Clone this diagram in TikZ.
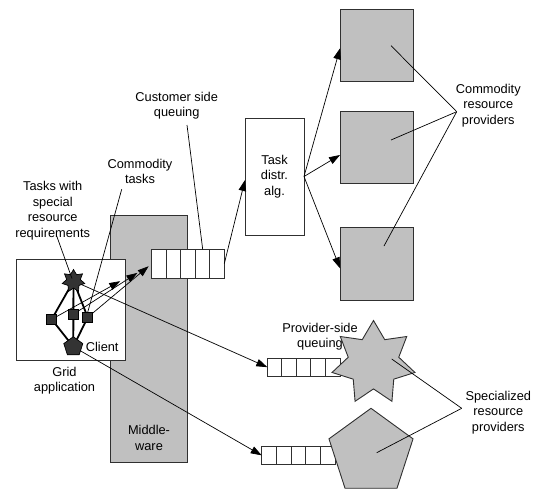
\documentclass[tikz,border=0pt]{standalone}
\usepackage{fontspec}
\setmainfont{Liberation Sans}
\usetikzlibrary{shapes.geometric,arrows.meta,calc}
\definecolor{boxgray}{HTML}{C0C0C0}
\definecolor{darkshape}{HTML}{333333}
\definecolor{edgegray}{HTML}{303030}
\tikzset{
  lbl/.style={align=center,inner sep=0pt,font=\fontsize{12.8}{15.6}\selectfont},
  graybox/.style={draw=edgegray,fill=boxgray,line width=0.9pt,inner sep=0pt,outer sep=0pt},
  whitebox/.style={draw=edgegray,fill=white,line width=0.9pt,inner sep=0pt,outer sep=0pt},
  queue/.style={whitebox},
  thinline/.style={draw=black,line width=0.7pt},
  arr/.style={thinline,-{Triangle[length=11pt,width=7.5pt]}},
  thick/.style={draw=black,line width=1.8pt},
  darkfill/.style={draw=black,fill=darkshape,line width=0.7pt,inner sep=0pt,outer sep=0pt},
}
\begin{document}
\begin{tikzpicture}[x=1pt,y=-1pt]
\useasboundingbox (0,0) rectangle (541,488);
% middleware
\node[graybox,minimum width=76.3,minimum height=246.3] (mw) at (148.85,338.85) {};
\node[lbl] (lmid) at (149,437.8) {Middle-\\ware};
% grid application box
\node[whitebox,minimum width=109.2,minimum height=101.7] (ga) at (71.1,309.85) {};
\node[lbl] (lgrid) at (64.5,380.8) {Grid\\application};
% customer queue
\node[queue,minimum width=72.6,minimum height=28.7] (cq) at (188,263.65) {};
\foreach \i in {1,...,4}
  \draw[edgegray,line width=0.9pt] ($(cq.south west)!\i/5!(cq.south east)$) -- ($(cq.north west)!\i/5!(cq.north east)$);
% task distribution
\node[whitebox,lbl,minimum width=59,minimum height=117] (tb) at (274.5,176.5) {Task\\distr.\\alg.};
% commodity providers
\node[graybox,minimum width=73.3,minimum height=72.4] (sq1) at (376.7,45.5) {};
\node[graybox,minimum width=73.3,minimum height=72.4] (sq2) at (376.7,147.2) {};
\node[graybox,minimum width=73.3,minimum height=72.4] (sq3) at (376.7,263.85) {};
% provider-side queues
\node[queue,minimum width=72.7,minimum height=17.7] (pq) at (303.65,367.15) {};
\foreach \i in {1,...,4}
  \draw[edgegray,line width=0.9pt] ($(pq.south west)!\i/5!(pq.south east)$) -- ($(pq.north west)!\i/5!(pq.north east)$);
\node[queue,minimum width=73.3,minimum height=17.3] (lq) at (298.35,455.35) {};
\foreach \i in {1,...,4}
  \draw[edgegray,line width=0.9pt] ($(lq.south west)!\i/5!(lq.south east)$) -- ($(lq.north west)!\i/5!(lq.north east)$);
% labels
\node[lbl] (lprov) at (320,336.7) {Provider-side\\queuing};
% specialized providers
\node[graybox,star,star points=7,star point ratio=1.64,minimum size=85] (bst) at (373.5,363) {};
\node[graybox,regular polygon,regular polygon sides=5,minimum size=88.4] (bpt) at (371,452.5) {};
% client elements positions
\coordinate (stc) at (73.5,281);
\coordinate (s1c) at (51.7,319.3);
\coordinate (s2c) at (73.3,314.3);
\coordinate (s3c) at (87.7,317.3);
\coordinate (ptc) at (73.3,346.7);
% arrows from client
\draw[arr,shorten >=36pt] (s1c) -- (cq.west);
\draw[arr,shorten >=17pt] (s2c) -- (cq.west);
\draw[arr,shorten >=4pt] (s3c) -- (cq.west);
\draw[arr] (stc) -- (pq.west);
\draw[arr] (ptc) -- (lq.west);
% client thick edges
\draw[thick] (stc) -- (s1c) (stc) -- (s2c) (stc) -- (s3c) (stc) -- (ptc)
  (s1c) -- (ptc) (s3c) -- (ptc);
\node[darkfill,star,star points=7,star point ratio=1.64,minimum size=23] (st) at (stc) {};
\node[darkfill,minimum size=10] (s1) at (s1c) {};
\node[darkfill,minimum size=10] (s2) at (s2c) {};
\node[darkfill,minimum size=10] (s3) at (s3c) {};
\node[darkfill,regular polygon,regular polygon sides=5,minimum size=20] (pt) at (ptc) {};
\node[lbl] (lclient) at (102.2,346.7) {Client};
% queue to task box, task box to providers
\draw[arr] (cq.east) -- ([yshift=-3.5pt]tb.west);
\draw[arr] (tb.east) -- ([yshift=-2.8pt]sq1.west);
\draw[arr] (tb.east) -- ([yshift=-7.8pt]sq2.west);
\draw[arr] (tb.east) -- ([yshift=-4.5pt]sq3.west);
% text labels with pointer lines
\node[lbl] (lcust) at (176.7,105.8) {Customer side\\queuing};
\coordinate (pcust) at (187,125);
\draw[thinline] (pcust) -- ([xshift=14.7pt]cq.north);
\node[lbl] (lctask) at (140,171.3) {Commodity\\tasks};
\coordinate (pctask) at (121.7,189.3);
\draw[thinline] (pctask) -- (s3.north);
\node[lbl] (ltasks) at (52.7,210.7) {Tasks with\\special\\resource\\requirements};
\coordinate (ptasks) at (56.7,236);
\draw[thinline] (ptasks) -- ($(st.center)+(-1.5,-2.5)$);
\node[lbl] (lcomm) at (488.3,105.5) {Commodity\\resource\\providers};
\coordinate (pcomm) at (456.7,111.7);
\draw[thinline] (pcomm) -- ($(sq1.center)+(14.3,0.2)$);
\draw[thinline] (pcomm) -- ($(sq2.center)+(14.3,-7.2)$);
\draw[thinline] (pcomm) -- ($(sq3.center)+(7.3,-17.85)$);
\node[lbl] (lspec) at (498.3,412.6) {Specialized\\resource\\providers};
\coordinate (pspec) at (461.7,408.3);
\draw[thinline] (pspec) -- ($(bst.center)+(18.2,-4)$);
\draw[thinline] (pspec) -- ($(bpt.center)+(5.7,0.2)$);
\end{tikzpicture}
\end{document}
